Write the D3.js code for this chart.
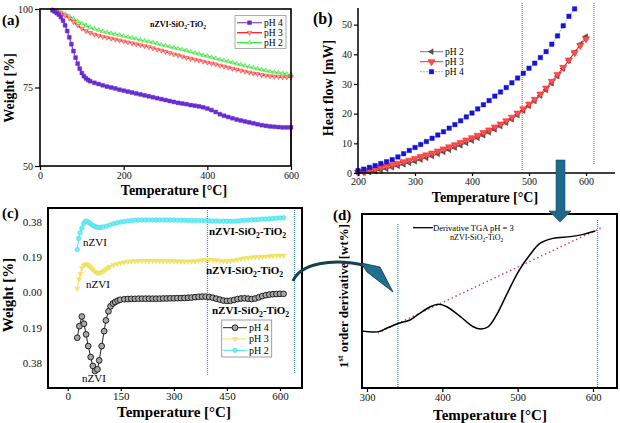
<!DOCTYPE html>
<html><head><meta charset="utf-8">
<script src="https://cdn.jsdelivr.net/npm/d3@7/dist/d3.min.js"></script>
<style>body{margin:0;background:#fff}svg{display:block}</style>
</head><body><script>
// ---------------- DATA ----------------
// Panel (a) TGA weight [%]
const aTempPH4 = [30,35,40,45,50,55,60,65,70,75,80,85,90,95,100,105,110,115,120].concat(d3.range(130,601,10));
const aPH4 = [99.6,99.2,98.7,98.2,97.4,96.3,94.8,93.0,91.0,88.8,86.6,84.5,82.6,81.0,79.6,78.6,77.9,77.4,77.0,
  76.5,76.1,75.7,75.3,75.0,74.7,74.3,74.0,73.7,73.4,73.1,72.8,72.5,72.2,71.9,71.6,71.3,71.0,70.7,70.4,70.1,69.9,
  69.7,69.4,69.2,69.0,68.7,68.3,67.8,67.2,66.5,66.0,65.6,65.2,64.8,64.5,64.2,63.9,63.6,63.3,63.0,62.8,62.6,62.5,
  62.4,62.3,62.3,62.3];
const aPH4EndValue = 50;
const aTemp = d3.range(30,601,10);
const aPH3 = [99.6,99.2,98.7,98.0,97.0,95.9,94.8,93.8,93.0,92.4,91.9,91.5,91.2,90.9,90.6,90.3,90.0,89.7,89.4,89.1,
  88.8,88.5,88.2,87.9,87.5,87.1,86.8,86.4,86.0,85.6,85.3,84.9,84.5,84.2,83.9,83.6,83.3,83.0,82.7,82.4,82.0,81.7,
  81.4,81.0,80.7,80.4,80.1,79.8,79.5,79.3,79.0,78.8,78.6,78.5,78.4,78.3,78.3,78.3];
const aPH2 = [99.8,99.5,99.0,98.4,97.7,96.9,96.1,95.4,94.8,94.2,93.7,93.3,92.9,92.6,92.3,92.0,91.7,91.4,91.1,90.8,
  90.5,90.2,89.9,89.6,89.3,89.0,88.6,88.3,88.0,87.7,87.4,87.1,86.8,86.4,86.0,85.7,85.3,85.0,84.6,84.3,83.9,83.6,
  83.3,82.9,82.6,82.3,81.9,81.6,81.3,81.0,80.7,80.4,80.1,79.9,79.7,79.5,79.3,79.2];
const aXTicks = [0,200,400,600];
const aYTicks = [50,75,100];

// Panel (b) DSC heat flow [mW]
const bTemp = d3.range(200,601,10);
const bTempPH4 = d3.range(200,581,10);
const bPH4 = [0.8,1.3,1.9,2.5,3.2,3.8,4.5,5.4,6.5,7.6,8.6,9.6,10.6,11.7,12.8,13.9,15.1,16.3,17.6,18.9,20.2,
  21.6,23.0,24.4,25.9,27.3,28.8,30.4,32.0,33.6,35.3,37.0,38.9,40.9,43.4,46.2,49.6,52.8,55.3];
const bPH3 = [0.2,0.5,0.9,1.3,1.8,2.3,2.8,3.3,3.8,4.3,4.9,5.5,6.1,6.7,7.4,8.1,8.8,9.5,10.3,11.1,11.9,12.7,13.6,
  14.5,15.5,16.5,17.6,18.8,20.2,21.6,23.2,24.8,26.6,28.6,30.9,33.2,35.6,38.1,40.6,43.0,45.2];
const bPH2 = [0.0,0.1,0.3,0.6,1.0,1.4,1.9,2.4,2.9,3.4,3.9,4.5,5.1,5.7,6.4,7.1,7.8,8.5,9.3,10.1,10.9,11.8,12.7,
  13.7,14.7,15.8,16.9,18.1,19.5,21.0,22.6,24.3,26.1,28.0,30.2,32.6,35.2,37.9,40.6,43.4,46.0];
const bXTicks = [200,300,400,500,600];
const bYTicks = [0,10,20,30,40,50];
const bMarks = [488,614];

// Panel (c) derivative weight curves (stacked)
const cTempPH4 = [27,33,40,46,52,58,65,71,77,84,89,96,103,108,115,121,128,134,141,148].concat(d3.range(160,611,10));
const cPH4 = [-0.244,-0.182,-0.130,-0.169,-0.226,-0.289,-0.348,-0.396,-0.423,-0.414,-0.366,-0.289,-0.209,-0.151,
  -0.102,-0.075,-0.060,-0.052,-0.045,-0.040,
  -0.037,-0.036,-0.035,-0.035,-0.034,-0.034,-0.034,-0.034,-0.034,-0.034,-0.034,-0.033,-0.033,-0.032,-0.032,-0.031,
  -0.031,-0.030,-0.029,-0.028,-0.026,-0.024,-0.023,-0.023,-0.025,-0.029,-0.034,-0.039,-0.044,-0.046,-0.045,-0.041,
  -0.036,-0.033,-0.032,-0.034,-0.036,-0.033,-0.027,-0.020,-0.015,-0.012,-0.010,-0.009,-0.008,-0.008];
const cTempPH3 = [27,32,36,40,45,50,55,60,65,70,75,80,85,90,95,100,105,110,115,120,130,140,150].concat(d3.range(160,611,10));
const cPH3 = [0.02,0.07,0.10,0.13,0.145,0.152,0.150,0.143,0.134,0.124,0.114,0.107,0.104,0.104,0.107,0.112,0.119,
  0.126,0.133,0.139,0.147,0.153,0.158,
  0.162,0.165,0.167,0.168,0.169,0.170,0.170,0.170,0.170,0.169,0.169,0.169,0.168,0.168,0.168,0.167,0.167,0.166,
  0.166,0.167,0.168,0.170,0.173,0.175,0.175,0.174,0.172,0.170,0.168,0.168,0.169,0.172,0.176,0.180,0.183,0.186,
  0.188,0.190,0.191,0.192,0.193,0.195,0.196,0.197,0.198,0.198];
const cTempPH2 = [27,31,35,40,45,50,55,60,65,70,75,80,85,90,95,100,110,120,130,140,150].concat(d3.range(160,611,10));
const cPH2 = [0.23,0.29,0.32,0.345,0.37,0.383,0.382,0.375,0.368,0.362,0.356,0.352,0.350,0.349,0.350,0.352,0.357,
  0.363,0.369,0.374,0.378,
  0.381,0.384,0.386,0.388,0.389,0.389,0.389,0.389,0.389,0.389,0.389,0.389,0.389,0.389,0.389,0.388,0.388,0.388,
  0.387,0.387,0.387,0.386,0.386,0.385,0.385,0.384,0.384,0.383,0.383,0.382,0.382,0.383,0.384,0.386,0.388,0.389,
  0.390,0.391,0.392,0.394,0.395,0.396,0.397,0.399,0.400,0.401];
const cXTicks = [0,150,300,450,600];
const cYTicks = [0.38,0.19,0,-0.19,-0.38];
const cYTickLabels = ["0.38","0.19","0.00","0.19","0.38"];
const cMarks = [395,641];

// Panel (d) first-order derivative, pH 3 (arbitrary units)
const dTemp = [293,315,326,342,357,370,384,395,406,424,441,451,461,472,485,501,516,530,547,570,587,603];
const dDeriv = [32.8,32.4,34.3,37.2,39.1,42.9,46.7,48.1,46.7,41.0,35.2,33.9,35.2,42.0,53.4,66.9,76.4,83.2,86.0,87.0,88.3,90.2];
const dTrendTemp = [315,612];
const dTrendValue = [31.8,92.3];
const dXTicks = [300,400,500,600];
const dMarks = [341,606];

// ---------------- DRAWING ----------------
const SERIF = "'Liberation Serif','Times New Roman',serif";
const svg = d3.select("body").append("svg").attr("width",620).attr("height",423)
  .attr("font-family",SERIF);

function styleAxis(g, size){
  g.attr("font-family",SERIF);
  g.select(".domain").remove();
  g.selectAll(".tick line").attr("stroke","#000").attr("stroke-width",1.2);
  g.selectAll(".tick text").attr("font-family",SERIF).attr("font-size",size).attr("fill","#111");
}
function txt(x,y,s,size,opt){
  opt = opt||{};
  const t = svg.append("text").attr("x",x).attr("y",y).attr("font-size",size)
    .attr("font-weight",opt.bold?"bold":"normal").attr("text-anchor",opt.anchor||"start").attr("fill","#000").text(s);
  if(opt.rot) t.attr("transform",`rotate(${opt.rot},${x},${y})`);
  return t;
}
function chem(x,y,size,bold){
  const t = svg.append("text").attr("x",x).attr("y",y).attr("font-size",size)
    .attr("font-weight",bold?"bold":"normal").attr("fill","#000");
  t.append("tspan").text("nZVI-SiO");
  t.append("tspan").text("2").attr("font-size",size*0.7).attr("dy",size*0.3);
  t.append("tspan").text("-TiO").attr("dy",-size*0.3);
  t.append("tspan").text("2").attr("font-size",size*0.7).attr("dy",size*0.3);
}
function series(xs, ys, xS, yS, o){
  const pts = xs.map((x,i)=>[xS(x), yS(ys[i])]);
  svg.append("path").attr("d", d3.line().curve(o.curve||d3.curveLinear)(pts))
    .attr("fill","none").attr("stroke",o.line).attr("stroke-width",o.lw||1)
    .attr("stroke-dasharray",o.dash||null);
  if(o.symbol){
    svg.append("g").selectAll("path").data(pts).join("path")
      .attr("transform",d=>`translate(${d[0]},${d[1]}) rotate(${o.rot||0})`)
      .attr("d", d3.symbol(o.symbol, o.size)())
      .attr("fill",o.fill).attr("stroke",o.stroke||"none").attr("stroke-width",o.sw||0.6);
  }
}
function legendItem(x1,x2,y,label,o,size){
  svg.append("line").attr("x1",x1).attr("x2",x2).attr("y1",y).attr("y2",y)
    .attr("stroke",o.line).attr("stroke-width",o.lw||1).attr("stroke-dasharray",o.dash||null);
  svg.append("path").attr("transform",`translate(${(x1+x2)/2},${y}) rotate(${o.rot||0})`)
    .attr("d", d3.symbol(o.symbol, o.size)()).attr("fill",o.fill).attr("stroke",o.stroke||"none").attr("stroke-width",o.sw||0.6);
  txt(x2+2, y+3.3, label, size||9.5);
}
function vmark(x,y1,y2){
  svg.append("line").attr("x1",x).attr("x2",x).attr("y1",y1).attr("y2",y2)
    .attr("stroke","#3b86b8").attr("stroke-width",1.2).attr("stroke-dasharray","1,1");
}

// ===== Panel (a) =====
const xA = d3.scaleLinear().domain([0,600]).range([40,291]);
const yA = d3.scaleLinear().domain([50,100]).range([166,9]);
const stA4 = {line:"#8a4cc8",lw:1.2,symbol:d3.symbolSquare,size:15,fill:"#6a2bd9",stroke:"#5a22c0",sw:0.4};
const stA3 = {line:"#ff1010",lw:1.2,symbol:d3.symbolTriangle,size:10,rot:180,fill:"#ff9a9a",stroke:"#ff3030",sw:0.5};
const stA2 = {line:"#22ee22",lw:1.2,symbol:d3.symbolTriangle,size:8,fill:"#aaf5aa",stroke:"#22dd22",sw:0.5};
series(aTemp,aPH2,xA,yA,stA2);
series(aTemp,aPH3,xA,yA,stA3);
series(aTempPH4,aPH4,xA,yA,stA4);
svg.append("line").attr("x1",xA(600)).attr("x2",xA(600)).attr("y1",yA(aPH4[aPH4.length-1])).attr("y2",yA(aPH4EndValue))
  .attr("stroke","#5a30c0").attr("stroke-width",1.6);
svg.append("rect").attr("x",xA(0)).attr("y",yA(100)).attr("width",xA(600)-xA(0)).attr("height",yA(50)-yA(100))
  .attr("fill","none").attr("stroke","#000").attr("stroke-width",1.6);
styleAxis(svg.append("g").attr("transform",`translate(0,${yA(50)})`).call(d3.axisBottom(xA).tickValues(aXTicks).tickSize(4).tickPadding(2)),10);
styleAxis(svg.append("g").attr("transform",`translate(${xA(0)},0)`).call(d3.axisLeft(yA).tickValues(aYTicks).tickSize(5).tickPadding(2)),10);
txt(2,25,"(a)",15,{bold:true});
txt(14,88,"Weight [%]",14,{bold:true,rot:-90,anchor:"middle"});
txt(174,195,"Temperature [°C]",14,{bold:true,anchor:"middle"});
chem(150,27,8,true);
svg.append("rect").attr("x",235).attr("y",15.5).attr("width",51).attr("height",33).attr("fill","#fff").attr("stroke","#999").attr("stroke-width",0.8);
legendItem(237,262,22.7,"pH 4",stA4);
legendItem(237,262,32.7,"pH 3",stA3);
legendItem(237,262,42.7,"pH 2",stA2);

// ===== Panel (b) =====
const xB = d3.scaleLinear().domain([200,600]).range([358,586]);
const yB = d3.scaleLinear().domain([0,55.6]).range([173,8]);
bMarks.forEach((m,i)=>vmark(xB(m), 3, i?165:170));
const stB2 = {line:"#777",lw:1,symbol:d3.symbolTriangle,size:14,rot:-90,fill:"#555",stroke:"#333",sw:0.4};
const stB3 = {line:"#ff2020",lw:1,symbol:d3.symbolTriangle,size:22,rot:180,fill:"#ff5050",stroke:"#ff1010",sw:0.5};
const stB4 = {line:"#a8a8d0",lw:1,dash:"2,1",symbol:d3.symbolSquare,size:20,fill:"#1414e0",stroke:"#0a0ac0",sw:0.4};
series(bTemp,bPH2,xB,yB,stB2);
series(bTemp,bPH3,xB,yB,stB3);
series(bTempPH4,bPH4,xB,yB,stB4);
svg.append("line").attr("x1",358).attr("x2",615).attr("y1",yB(0)).attr("y2",yB(0)).attr("stroke","#000").attr("stroke-width",1.5);
svg.append("line").attr("x1",358).attr("x2",358).attr("y1",8).attr("y2",yB(0)).attr("stroke","#000").attr("stroke-width",1.5);
styleAxis(svg.append("g").attr("transform",`translate(0,${yB(0)})`).call(d3.axisBottom(xB).tickValues(bXTicks).tickSize(3).tickPadding(2)),10);
styleAxis(svg.append("g").attr("transform",`translate(358,0)`).call(d3.axisLeft(yB).tickValues(bYTicks).tickSize(4).tickPadding(2)),10);
txt(313,24,"(b)",16,{bold:true});
txt(333,88,"Heat flow [mW]",14,{bold:true,rot:-90,anchor:"middle"});
txt(485,202,"Temperature [°C]",14,{bold:true,anchor:"middle"});
legendItem(420,443,51.7,"pH 2",stB2);
legendItem(420,443,61.7,"pH 3",stB3);
legendItem(420,443,71.7,"pH 4",stB4);

// ===== Panel (c) =====
const xC = d3.scaleLinear().domain([0,600]).range([67.7,280]);
const yC = d3.scaleLinear().domain([-0.38,0.38]).range([363,221.7]);
cMarks.forEach((m,i)=>vmark(xC(m), 208, i?373:375));
const stC4 = {line:"#222",lw:1,symbol:d3.symbolCircle,size:26,fill:"#a8a8a8",stroke:"#111",sw:0.9};
const stC3 = {line:"#f2e25a",lw:1,symbol:d3.symbolTriangle,size:11,rot:180,fill:"#f5e66a",stroke:"#e8d440",sw:0.4};
const stC2 = {line:"#40e4f0",lw:1,symbol:d3.symbolCircle,size:16,fill:"#70eef5",stroke:"#30d8e8",sw:0.5};
series(cTempPH2,cPH2,xC,yC,stC2);
series(cTempPH3,cPH3,xC,yC,stC3);
series(cTempPH4,cPH4,xC,yC,stC4);
svg.append("rect").attr("x",48).attr("y",208).attr("width",254).attr("height",180)
  .attr("fill","none").attr("stroke","#000").attr("stroke-width",2);
styleAxis(svg.append("g").attr("transform",`translate(0,388)`).call(d3.axisBottom(xC).tickValues(cXTicks).tickSize(3).tickPadding(1)),11);
const gcy = svg.append("g").attr("transform",`translate(48,0)`).call(d3.axisLeft(yC).tickValues(cYTicks).tickSize(0).tickPadding(6).tickFormat((d,i)=>cYTickLabels[i]));
styleAxis(gcy,11);
txt(2,218,"(c)",15,{bold:true});
txt(13,295,"Weight [%]",15,{bold:true,rot:-90,anchor:"middle"});
txt(174,417,"Temperature [°C]",15,{bold:true,anchor:"middle"});
txt(83,245.5,"nZVI",11);
txt(86,288,"nZVI",11);
txt(82,382,"nZVI",11);
chem(209,235,11,true);
chem(206,274,11,true);
chem(212,314,11,true);
svg.append("rect").attr("x",221.7).attr("y",320).attr("width",50).attr("height",37).attr("fill","#fff").attr("stroke","#888").attr("stroke-width",0.8);
legendItem(223,247,327.7,"pH 4",stC4,10);
legendItem(223,247,339,"pH 3",stC3,10);
legendItem(223,247,350.3,"pH 2",stC2,10);

// ===== Panel (d) =====
const xD = d3.scaleLinear().domain([300,600]).range([367,593]);
const yD = d3.scaleLinear().domain([0,100]).range([388,214]);
dMarks.forEach((m,i)=>vmark(xD(m), i?220:224, 388));
svg.append("path").attr("d", d3.line().x((d,i)=>xD(dTrendTemp[i])).y((d,i)=>yD(dTrendValue[i]))(dTrendValue))
  .attr("stroke","#d23a62").attr("stroke-width",1.6).attr("stroke-dasharray","0.1,4.2").attr("stroke-linecap","round").attr("fill","none");
series(dTemp,dDeriv,xD,yD,{line:"#000",lw:1.5,curve:d3.curveCatmullRom.alpha(0.5)});
svg.append("rect").attr("x",362).attr("y",214).attr("width",255).attr("height",174)
  .attr("fill","none").attr("stroke","#000").attr("stroke-width",2);
styleAxis(svg.append("g").attr("transform",`translate(0,388)`).call(d3.axisBottom(xD).tickValues(dXTicks).tickSize(4).tickPadding(2)),10.5);
txt(333,220,"(d)",15,{bold:true});
txt(490,420,"Temperature [°C]",15,{bold:true,anchor:"middle"});
{
  const t = svg.append("text").attr("transform","translate(348,296) rotate(-90)").attr("text-anchor","middle")
    .attr("font-size",13).attr("font-weight","bold");
  t.append("tspan").text("1");
  t.append("tspan").text("st").attr("font-size",8.5).attr("dy",-5);
  t.append("tspan").text(" order derivative [wt%]").attr("dy",5);
}
svg.append("line").attr("x1",413).attr("x2",433).attr("y1",227.7).attr("y2",227.7).attr("stroke","#000").attr("stroke-width",1.3);
txt(433,230.5,"Derivative TGA pH = 3",8.5);
chem(450,239.5,8,false);

// ===== Arrows =====
svg.append("path").attr("d","M556,160 L565,160 L565,211 L571,211 L560,222 L549,211 L556,211 Z")
  .attr("fill","#1f6a8c").attr("stroke","#184f68").attr("stroke-width",0.6);
svg.append("path").attr("d","M293,281 C300,264 332,257 367,266")
  .attr("fill","none").attr("stroke","#173f52").attr("stroke-width",3);
svg.append("path").attr("d","M361,263 L380,267 L393,292 L367,272 Z")
  .attr("fill","#1f6f8f").attr("stroke","#0e3142").attr("stroke-width",0.8);
</script></body></html>
